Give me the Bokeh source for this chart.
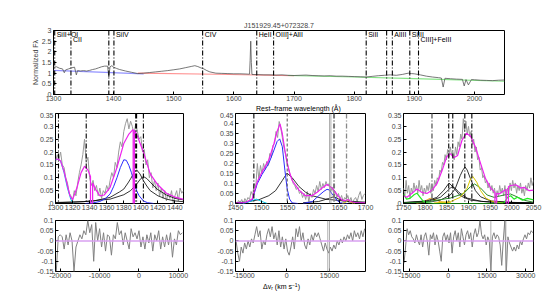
import numpy as np
from bokeh.plotting import figure
from bokeh.layouts import column, row
from bokeh.models import Range1d, FixedTicker, PrintfTickFormatter, Span, Title, Div
from bokeh.core.properties import value
from bokeh.embed import file_html
from bokeh.resources import INLINE

# ---------------- data: overview spectrum ----------------
top_wave = [1300,1305,1310,1315,1318,1320,1325,1330,1335,1338,1340,1345,1350,1355,1360,1365,1370,1375,1380,1385,1390,1392,1394,1397,1400,1405,1410,1420,1430,1440,1450,1460,1470,1480,1490,1500,1510,1520,1530,1535,1540,1545,1550,1555,1560,1570,1580,1590,1600,1610,1620,1626,1627,1628,1629,1630,1640,1650,1660,1670,1680,1690,1700,1710,1720,1730,1740,1750,1760,1770,1780,1790,1800,1810,1820,1830,1840,1850,1860,1870,1880,1890,1895,1900,1910,1920,1930,1940,1945,1948,1951,1960,1970,1980,1983,1986,1990,1995,2000,2010,2020,2030,2040,2050]
top_flux = [1.28,1.3,1.23,1.2,1.02,1.15,1.2,1.25,1.28,0.92,1.12,1.1,1.12,1.1,1.13,1.17,1.2,1.25,1.3,1.33,1.33,0.82,1.3,1.35,1.28,1.22,1.17,1.1,1.04,0.98,1.0,1.03,1.06,1.09,1.12,1.16,1.2,1.26,1.32,1.35,1.31,1.25,1.2,1.12,1.06,1.0,0.99,0.98,0.97,0.97,0.96,0.95,1.6,2.5,1.5,0.94,0.93,0.92,0.92,0.91,0.92,0.9,0.89,0.9,0.91,0.89,0.88,0.87,0.88,0.86,0.86,0.85,0.84,0.83,0.82,0.85,0.88,0.9,0.92,0.9,0.94,1.0,0.98,0.97,0.92,0.86,0.82,0.79,0.77,0.35,0.76,0.74,0.72,0.71,0.4,0.7,0.45,0.7,0.69,0.67,0.66,0.65,0.67,0.68]
cont_blue_x = [1300, 1375, 1450]
cont_blue_y = [1.13, 1.05, 0.97]
cont_red_x = [1440, 1570, 1700]
cont_red_y = [1.0, 0.95, 0.88]
cont_green_x = [1690, 1800, 1900, 2050]
cont_green_y = [0.89, 0.82, 0.74, 0.62]
top_lines = [1302, 1329, 1392, 1400.5, 1548, 1638, 1666, 1820, 1854, 1863.5, 1892.5, 1907]
top_label_text = ["SiII+OI", "CII", "SiIV", "CIV", "HeII", "OIII]+AlII", "SiII", "AlIII", "SiIII", "CIII]+FeIII"]
top_label_x = [1302, 1329, 1400.5, 1548, 1638, 1666, 1820, 1863.5, 1892.5, 1907]
top_label_y = [2.8, 2.58, 2.8, 2.8, 2.8, 2.8, 2.8, 2.8, 2.8, 2.58]
top_xlabel = "Rest\u2013frame wavelength (\u00c5)"
res_xlabel = ("\u0394v<span style='font-size:5px;position:relative;top:1px'>r</span>"
              " (km s<span style='font-size:5px;position:relative;top:-2px'>\u22121</span>)")

# ---------------- data: SiIV region ----------------
left_wave = list(range(1300, 1451, 2))
left_flux = [0.16,0.19,0.17,0.2,0.15,0.14,0.1,0.08,0.04,0.03,0.01,0.05,0.03,0.08,0.12,0.15,0.19,0.25,0.16,0.18,0.1,0.07,0.09,0.05,0.07,0.03,0.06,0.02,0.05,0.04,0.07,0.05,0.09,0.12,0.1,0.16,0.14,0.2,0.24,0.22,0.28,0.31,0.33,0.29,0.32,0.3,0.27,0.31,0.28,0.25,0.26,0.2,0.21,0.15,0.17,0.1,0.12,0.06,0.09,0.05,0.08,0.03,0.06,0.02,0.05,0.01,0.04,0.02,0.05,0.0,0.03,0.05,0.01,0.06,0.04,0.05]
mag_l_x = [1300,1303,1306,1310,1314,1317,1320,1325,1330,1334,1338,1341,1341,1343.5,1343.5,1347,1352,1357,1364,1372,1380,1386,1391,1391,1392.5,1392.5,1395,1403,1411,1419,1430,1440,1450]
mag_l_y = [0.172,0.173,0.165,0.125,0.07,0.03,0.015,0.06,0.12,0.145,0.13,0.105,0,0,0.08,0.055,0.03,0.033,0.063,0.14,0.233,0.27,0.288,0,0,0.285,0.27,0.2,0.115,0.076,0.04,0.025,0.016]
cyan_l_x = [1300,1303,1306,1310,1314,1318,1321]
cyan_l_y = [0.17,0.172,0.165,0.12,0.06,0.015,0.0]
blue_l_x = [1335,1345,1352,1358,1364,1368,1372,1376,1380,1383,1386,1389,1392,1395,1398,1403,1408,1415]
blue_l_y = [0.0,0.003,0.008,0.018,0.037,0.065,0.1,0.14,0.17,0.168,0.148,0.12,0.085,0.05,0.03,0.01,0.003,0.0]
blk1_l_x = [1300,1320,1345,1364,1375,1380,1385,1388,1392,1395,1399,1403,1407,1411,1420,1430,1440,1450]
blk1_l_y = [0.003,0.005,0.01,0.024,0.045,0.056,0.08,0.096,0.12,0.131,0.115,0.089,0.068,0.05,0.03,0.017,0.01,0.007]
blk2_l_x = [1300,1333,1364,1380,1388,1395,1400,1403,1407,1411,1419,1430,1440,1450]
blk2_l_y = [0.004,0.007,0.017,0.034,0.05,0.075,0.097,0.105,0.097,0.083,0.056,0.033,0.02,0.014]
left_lines = [1303.5, 1336, 1394.5, 1403]

# ---------------- data: CIV region ----------------
mid_wave = list(range(1450, 1700, 3))
mid_flux = [0.01,0.0,0.015,0.005,0.02,0.0,0.025,0.01,0.03,0.02,0.06,0.04,0.1,0.08,0.2,0.12,0.19,0.15,0.2,0.17,0.21,0.19,0.25,0.23,0.29,0.3,0.36,0.33,0.41,0.38,0.33,0.28,0.25,0.2,0.18,0.14,0.13,0.1,0.09,0.07,0.08,0.05,0.06,0.03,0.05,0.02,0.06,0.01,0.05,0.03,0.07,0.05,0.09,0.06,0.11,0.07,0.1,0.08,0.11,0.09,0.1,0.06,0.08,0.05,0.06,0.03,0.05,0.02,0.04,0.01,0.03,0.02,0.04,0.01,0.03,0.0,0.02,0.03,0.01,0.04,0.06,0.02,0.04,0.05]
mag_c_x = [1450,1469,1482,1486,1491.7,1501,1514,1524,1530,1535.6,1540,1546,1552.6,1559,1571.8,1584.6,1597,1607,1616.7,1626,1636,1646,1655,1661.5,1666,1671,1680,1700]
mag_c_y = [0.002,0.005,0.022,0.06,0.107,0.157,0.217,0.3,0.36,0.398,0.35,0.25,0.166,0.115,0.068,0.039,0.039,0.056,0.078,0.095,0.078,0.042,0.017,0.014,0.02,0.01,0.005,0.003]
blue_c1_x = [1450,1469,1482,1486,1491.7,1501,1514,1524,1530,1535,1540,1545,1549.4,1554,1559,1570]
blue_c1_y = [0.0,0.003,0.017,0.05,0.098,0.145,0.2,0.267,0.31,0.323,0.284,0.166,0.073,0.022,0.003,0.0]
blue_c2_x = [1580,1598,1610,1620,1626,1630,1636,1646,1652,1665]
blue_c2_y = [0.0,0.01,0.039,0.061,0.071,0.068,0.047,0.014,0.003,0.0]
blk_c1_x = [1450,1470,1495,1514,1527,1540,1549,1559,1572,1585,1597,1623,1661,1700]
blk_c1_y = [0.004,0.007,0.019,0.039,0.064,0.115,0.152,0.129,0.085,0.056,0.039,0.022,0.012,0.007]
blk_c2_x = [1580,1610,1629.5,1639,1648.7,1668,1700]
blk_c2_y = [0.004,0.01,0.025,0.034,0.022,0.008,0.003]
cyan_c_x = [1465,1482,1490,1501,1511]
cyan_c_y = [0.0,0.014,0.022,0.01,0.0]
yel_c_x = [1655,1662,1667,1672,1680]
yel_c_y = [0.0,0.006,0.017,0.006,0.0]

# ---------------- data: CIII] region ----------------
right_wave = list(range(1750, 2051, 3))
right_flux = [0.06,0.03,0.09,0.04,0.07,0.02,0.06,0.04,0.08,0.05,0.07,0.04,0.09,0.05,0.07,0.03,0.06,0.04,0.07,0.05,0.08,0.04,0.07,0.05,0.09,0.07,0.1,0.09,0.13,0.12,0.16,0.15,0.19,0.17,0.21,0.18,0.22,0.19,0.2,0.17,0.22,0.19,0.24,0.22,0.27,0.25,0.33,0.28,0.32,0.27,0.3,0.26,0.28,0.23,0.25,0.2,0.22,0.17,0.18,0.13,0.14,0.1,0.11,0.08,0.09,0.06,0.08,0.05,0.07,0.04,0.06,0.02,0.05,0.03,0.07,0.04,0.06,0.03,0.07,0.02,0.06,0.04,0.08,0.05,0.09,0.06,0.08,0.04,0.07,0.05,0.08,0.04,0.06,0.03,0.07,0.05,0.08,0.06,0.1,0.07,0.09]
mag_r_x = [1750,1757.7,1769,1781,1792.5,1804,1815.7,1827,1839,1850,1858,1866,1875,1885,1895,1904.7,1916,1928,1939.5,1951,1960,1961,1961,1965,1965,1970.6,1982,1987,1987,1992,1992,1997.5,2009,2020.6,2028,2040,2050]
mag_r_y = [0.03,0.024,0.039,0.056,0.043,0.039,0.052,0.076,0.128,0.183,0.194,0.178,0.187,0.246,0.273,0.262,0.22,0.155,0.096,0.06,0.045,0.043,0,0,0.04,0.037,0.05,0.055,0,0,0.065,0.07,0.073,0.06,0.063,0.05,0.052]
grn_r_x = [1750,1757,1765,1775,1781,1788,1795,1804,1820,1950,1982,1990,1997.5,2005,2013,2024.6,2036,2050]
grn_r_y = [0.037,0.017,0.02,0.035,0.04,0.025,0.01,0.003,0.0,0.0,0.003,0.024,0.03,0.017,0.024,0.013,0.02,0.014]
dgr_r_x = [1750,1800,1827,1858,1889,1904.7,1914,1928,1943,1959,1982,1997,2013,2030,2050]
dgr_r_y = [0.002,0.006,0.013,0.021,0.039,0.066,0.076,0.06,0.033,0.024,0.033,0.037,0.025,0.012,0.005]
yel_r_x = [1820,1858,1881,1897,1904.7,1910,1919,1928,1940,1955,1980]
yel_r_y = [0.002,0.007,0.024,0.06,0.096,0.105,0.083,0.05,0.021,0.008,0.002]
org_r_x = [1780,1796,1805,1812,1823,1835,1860]
org_r_y = [0.0,0.005,0.015,0.02,0.015,0.007,0.002]
blk_ra_x = [1750,1804,1827,1842.5,1850,1855,1860,1866,1881,1904.7,1950,2050]
blk_ra_y = [0.004,0.01,0.024,0.05,0.068,0.079,0.072,0.06,0.03,0.013,0.005,0.002]
blk_rb_x = [1750,1810,1835,1850,1858,1863.5,1870,1878,1897,1930,2050]
blk_rb_y = [0.003,0.01,0.024,0.047,0.06,0.066,0.058,0.043,0.021,0.008,0.002]
blk_rc_x = [1750,1810,1835,1858,1869,1881,1887,1892,1897,1904.7,1916,1928,1951,2000,2050]
blk_rc_y = [0.002,0.006,0.013,0.033,0.056,0.109,0.13,0.142,0.13,0.096,0.05,0.026,0.01,0.004,0.002]

# ---------------- data: residuals (km/s) ----------------
res_l_v = list(range(-21000, 11001, 500))
res_l_r = [-0.15,0.02,0.03,0.02,-0.04,0.03,-0.02,0.04,0.0,-0.15,-0.03,0.0,0.03,0.01,0.05,0.03,0.1,0.04,0.08,-0.1,0.09,0.0,0.06,-0.03,0.04,-0.05,0.03,0.02,-0.07,0.03,0.01,0.09,0.03,0.05,-0.02,0.04,0.0,-0.04,0.06,0.02,0.04,0.01,0.05,-0.03,0.02,-0.04,0.03,-0.01,0.04,-0.05,0.03,0.0,0.05,-0.04,0.02,-0.03,0.03,-0.02,0.04,-0.08,0.01,-0.02,0.05,0.03,0.04]
res_c_v = list(range(-17700, 27301, 600))
res_c_r = [0.0,-0.06,-0.1,-0.03,-0.06,-0.01,-0.04,0.0,-0.03,0.01,-0.01,0.03,0.07,0.02,0.05,-0.04,0.0,-0.02,0.03,0.06,0.02,0.07,0.01,0.04,-0.02,0.05,-0.03,0.02,-0.04,0.01,-0.05,-0.07,-0.03,0.02,-0.04,0.06,0.02,0.07,0.0,0.04,-0.02,-0.04,0.01,-0.02,0.03,0.0,0.04,0.02,0.04,0.01,-0.02,-0.05,-0.01,-0.04,-0.06,-0.03,-0.05,-0.02,-0.04,0.0,-0.02,0.01,-0.01,0.02,0.0,0.03,0.01,0.04,0.0,0.05,0.02,0.04,0.01,0.05,0.02,0.06]
res_c_mask = [14400, 15000]
res_r_v = list(range(-17100, 32701, 600))
res_r_r = [-0.11,-0.03,0.06,0.03,0.05,0.02,0.01,-0.01,0.03,0.0,-0.02,0.03,-0.03,0.02,0.04,0.0,-0.07,0.03,0.01,0.04,-0.02,0.03,0.0,-0.05,-0.1,0.02,0.04,0.0,0.03,-0.01,0.04,-0.06,0.02,0.05,0.0,0.04,-0.03,0.06,0.02,-0.02,0.03,0.05,0.01,0.04,-0.03,0.03,0.06,0.02,0.04,0.1,0.03,0.01,0.03,-0.02,0.02,0.0,-0.15,0.02,0.04,0.01,0.03,0.02,-0.02,-0.12,0.0,0.1,-0.15,0.02,-0.01,-0.03,-0.05,-0.03,-0.05,-0.02,-0.04,0.0,-0.02,0.01,0.03,0.01,0.04,0.03,0.05,0.04]
res_r_mask = [16500, 22300]

# ---------------- styling helpers ----------------
FONT = "Liberation Sans"
FS = "7px"
GRAY = "#9a9a9a"
MAG = "#ee22ee"
BLUE = "#2a2aff"
DASHDOT = "5 2 1 2"


def mk(w, h, xr, yr, lb, rb, tb, bb, xt, yt, title=None):
    p = figure(width=w, height=h, x_range=Range1d(*xr), y_range=Range1d(*yr),
               output_backend="svg", toolbar_location=None, title=title,
               min_border_left=lb, min_border_right=rb, min_border_top=tb, min_border_bottom=bb)
    p.outline_line_color = "black"
    p.outline_line_alpha = 1
    p.outline_line_width = 1
    p.xgrid.visible = False
    p.ygrid.visible = False
    p.background_fill_color = "white"
    for ax in (p.xaxis[0], p.yaxis[0]):
        ax.major_tick_in = 3
        ax.major_tick_out = 0
        ax.minor_tick_line_color = None
        ax.axis_line_color = None
        ax.major_label_text_font = FONT
        ax.major_label_text_font_size = FS
        ax.major_label_standoff = 2
        ax.axis_label_text_font = FONT
        ax.axis_label_text_font_size = FS
        ax.axis_label_text_font_style = "normal"
        ax.formatter = PrintfTickFormatter(format="%g")
    p.xaxis[0].major_label_standoff = 1
    p.xaxis[0].ticker = FixedTicker(ticks=xt)
    p.yaxis[0].ticker = FixedTicker(ticks=yt)
    return p


def vline(p, x, color="black", dash=DASHDOT, width=1.0):
    p.add_layout(Span(location=x, dimension="height", line_color=color,
                      line_dash=dash, line_width=width))


def text_strip(html, left, h, top=0):
    inner = ("<div style=\"position:absolute;left:%dpx;top:%dpx;white-space:nowrap;"
             "font-family:'Liberation Sans';font-size:7px;line-height:7px;color:black\">%s</div>"
             % (left, top, html))
    return Div(text=inner, width=555, height=h, margin=0,
               styles={"overflow": "visible", "position": "relative", "padding": "0px"})


# ---------------- top overview ----------------
top_title = Title(text="J151929.45+072328.7", align="center", text_font=FONT,
                  text_font_size=FS, text_font_style="normal", standoff=4)
top = mk(555, 105, (1300, 2050), (0, 3), 53, 51, 30, 11,
         list(range(1300, 2001, 100)), [0, 0.5, 1, 1.5, 2, 2.5, 3], title=top_title)
top.yaxis[0].axis_label = "Normalized F\u03bb"
top.yaxis[0].axis_label_standoff = 0
for x in top_lines:
    vline(top, x, width=1.1)
top.line(cont_blue_x, cont_blue_y, line_color="#7777ff", line_width=1.2, line_alpha=0.8)
top.line(cont_red_x, cont_red_y, line_color="#ff7777", line_width=1.2, line_alpha=0.8)
top.line(cont_green_x, cont_green_y, line_color="#66dd66", line_width=1.2, line_alpha=0.8)
top.line(top_wave, top_flux, line_color="#555555", line_width=0.8)
top.text(x=top_label_x, y=top_label_y, text=top_label_text, x_offset=2,
         text_font=value(FONT), text_font_size=FS, text_baseline="middle",
         text_align="left", text_color="black")

# ---------------- middle panels ----------------
ml = mk(200, 104, (1300, 1450), (0, 0.35), 55, 17, 1, 13,
        list(range(1300, 1441, 20)), [0, 0.05, 0.1, 0.15, 0.2, 0.25, 0.3, 0.35])
for x in left_lines:
    vline(ml, x, width=2.0 if x == 1394.5 else 1.1)
ml.line(left_wave, left_flux, line_color=GRAY, line_width=1)
ml.line(blk2_l_x, blk2_l_y, line_color="black", line_width=0.8)
ml.line(blk1_l_x, blk1_l_y, line_color="black", line_width=0.8)
ml.line(blue_l_x, blue_l_y, line_color=BLUE, line_width=1)
ml.line(cyan_l_x, cyan_l_y, line_color="#00c8e8", line_width=1)
ml.line(mag_l_x, mag_l_y, line_color=MAG, line_width=1.2)

mc = mk(178, 104, (1450, 1700), (0, 0.45), 35, 13, 1, 13,
        list(range(1450, 1701, 50)), [0, 0.05, 0.1, 0.15, 0.2, 0.25, 0.3, 0.35, 0.4, 0.45])
vline(mc, 1485.3, width=1.1)
vline(mc, 1549.4, color="#555555", dash="3 2", width=1.0)
vline(mc, 1630.8, color="#999999", dash="solid", width=0.8)
vline(mc, 1633.5, color="#999999", dash="solid", width=0.8)
vline(mc, 1639.5, color="#777777", dash=DASHDOT, width=2.0)
vline(mc, 1663.5, color="#888888", dash=DASHDOT, width=1.3)
mc.line(mid_wave, mid_flux, line_color=GRAY, line_width=1)
mc.line(blk_c1_x, blk_c1_y, line_color="black", line_width=0.8)
mc.line(blk_c2_x, blk_c2_y, line_color="black", line_width=0.8)
mc.line(blue_c1_x, blue_c1_y, line_color=BLUE, line_width=1)
mc.line(blue_c2_x, blue_c2_y, line_color=BLUE, line_width=1)
mc.line(cyan_c_x, cyan_c_y, line_color="#00c8e8", line_width=1)
mc.line(yel_c_x, yel_c_y, line_color="#d8c800", line_width=1)
mc.line(mag_c_x, mag_c_y, line_color=MAG, line_width=1.2)

mr = mk(177, 104, (1750, 2050), (0, 0.35), 25, 22, 1, 13,
        list(range(1750, 2051, 50)), [0, 0.05, 0.1, 0.15, 0.2, 0.25, 0.3, 0.35])
vline(mr, 1815.7, color="#888888", width=1.8)
for x in [1854.4, 1863.7, 1891.5, 1907.7]:
    vline(mr, x, width=1.1)
mr.line(right_wave, right_flux, line_color=GRAY, line_width=1)
mr.line(org_r_x, org_r_y, line_color="#e8a000", line_width=1)
mr.line(blk_ra_x, blk_ra_y, line_color="black", line_width=0.8)
mr.line(blk_rb_x, blk_rb_y, line_color="black", line_width=0.8)
mr.line(blk_rc_x, blk_rc_y, line_color="black", line_width=0.8)
mr.line(dgr_r_x, dgr_r_y, line_color="#2a8a2a", line_width=1)
mr.line(yel_r_x, yel_r_y, line_color="#d8c800", line_width=1)
mr.line(grn_r_x, grn_r_y, line_color="#22ee22", line_width=1.2)
mr.line(mag_r_x, mag_r_y, line_color=MAG, line_width=1.2)

# ---------------- residual panels ----------------
RES_T = [-0.15, -0.1, -0.05, 0, 0.05, 0.1]
bl = mk(200, 66, (-21200, 11300), (-0.15, 0.1), 55, 17, 4, 11, [-20000, -10000, 0, 10000], RES_T)
bc = mk(178, 66, (-17900, 27600), (-0.15, 0.1), 35, 13, 4, 11, [-15000, 0, 15000], RES_T)
br = mk(177, 66, (-17300, 33000), (-0.15, 0.1), 25, 22, 4, 11, [-15000, 0, 15000, 30000], RES_T)
for x in res_c_mask:
    vline(bc, x, color="#999999", dash="solid", width=0.8)
for x in res_r_mask:
    vline(br, x, color="#999999", dash="solid", width=0.8)
for p, v, r in ((bl, res_l_v, res_l_r), (bc, res_c_v, res_c_r), (br, res_r_v, res_r_r)):
    p.add_layout(Span(location=0, dimension="width", line_color="#d8a0f0", line_width=1.5))
    p.line(v, r, line_color="#808080", line_width=1)

layout = column(top, text_strip(top_xlabel, 256, 7), row(ml, mc, mr),
                row(bl, bc, br), text_strip(res_xlabel, 263, 10, top=1))
open("out.html", "w").write(file_html(layout, INLINE))
